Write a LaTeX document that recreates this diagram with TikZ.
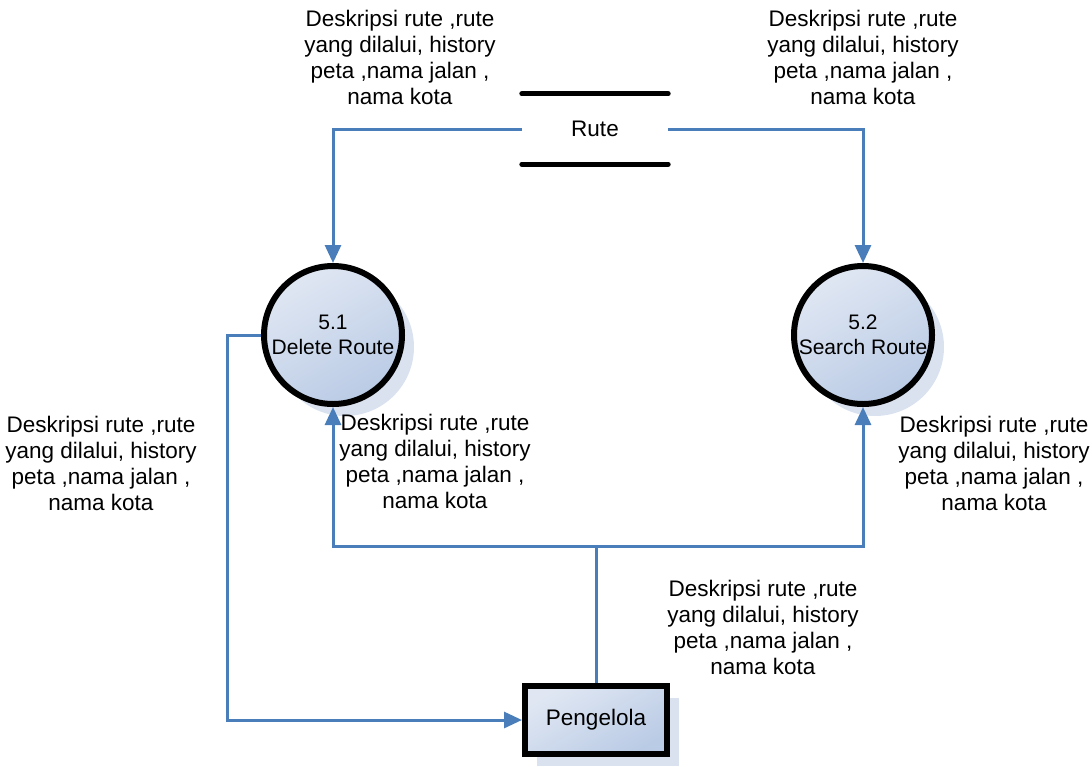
\documentclass[tikz,border=0pt]{standalone}
\usepackage{fontspec}
\setmainfont{Liberation Sans}
\usetikzlibrary{arrows.meta,shadows}
\definecolor{flowblue}{RGB}{74,126,187}
\definecolor{filltop}{RGB}{224,231,243}
\definecolor{fillbottom}{RGB}{186,203,229}
\definecolor{shadeblue}{RGB}{218,226,240}
\begin{document}
\begin{tikzpicture}[
x=1pt, y=-1pt,
every node/.style={font=\fontsize{22.5}{26}\selectfont},
process/.style={circle, draw=black, line width=6pt, minimum size=138pt, inner sep=0pt, align=center,
  font=\fontsize{21}{25}\selectfont,
  top color=filltop, bottom color=fillbottom, shading angle=30,
  general shadow={fill=shadeblue, shadow xshift=12pt, shadow yshift=-12pt}},
entity/.style={rectangle, draw=black, line width=6pt, minimum width=142pt, minimum height=68pt,
  top color=filltop, bottom color=fillbottom, shading angle=30,
  general shadow={fill=shadeblue, shadow xshift=12pt, shadow yshift=-12pt}},
store/.style={rectangle, minimum width=146pt, minimum height=70pt},
bar/.style={line width=5pt, line cap=round},
flow/.style={draw=flowblue, line width=3pt},
flowto/.style={flow, -{Triangle[length=18pt, width=16pt]}},
desc/.style={align=center},
]
\useasboundingbox (0,0) rectangle (1092,766);
\node[store] (rute) at (595,129) {Rute};
\draw[bar] (rute.north west) -- (rute.north east);
\draw[bar] (rute.south west) -- (rute.south east);
\node[process] (p51) at (333,335) {5.1\\Delete Route};
\node[process] (p52) at (863,335) {5.2\\Search Route};
\node[entity] (boss) at (596,720) {Pengelola};
\coordinate (junction) at (596,546);
\draw[flowto] (rute.west) -| (p51.north);
\draw[flowto] (rute.east) -| (p52.north);
\draw[flow] (boss.north) -- (junction);
\draw[flowto] (junction) -| (p51.south);
\draw[flowto] (junction) -| (p52.south);
\draw[flowto] (p51.west) -- ++(-34,0) |- (boss.west);
\node[desc] (d1) at (400,57) {Deskripsi rute ,rute\\yang dilalui, history\\peta ,nama jalan ,\\nama kota};
\node[desc] (d2) at (863,57) {Deskripsi rute ,rute\\yang dilalui, history\\peta ,nama jalan ,\\nama kota};
\node[desc] (d3) at (101,463) {Deskripsi rute ,rute\\yang dilalui, history\\peta ,nama jalan ,\\nama kota};
\node[desc] (d4) at (435,461) {Deskripsi rute ,rute\\yang dilalui, history\\peta ,nama jalan ,\\nama kota};
\node[desc] (d5) at (994,463) {Deskripsi rute ,rute\\yang dilalui, history\\peta ,nama jalan ,\\nama kota};
\node[desc] (d6) at (763,627) {Deskripsi rute ,rute\\yang dilalui, history\\peta ,nama jalan ,\\nama kota};
\end{tikzpicture}
\end{document}
